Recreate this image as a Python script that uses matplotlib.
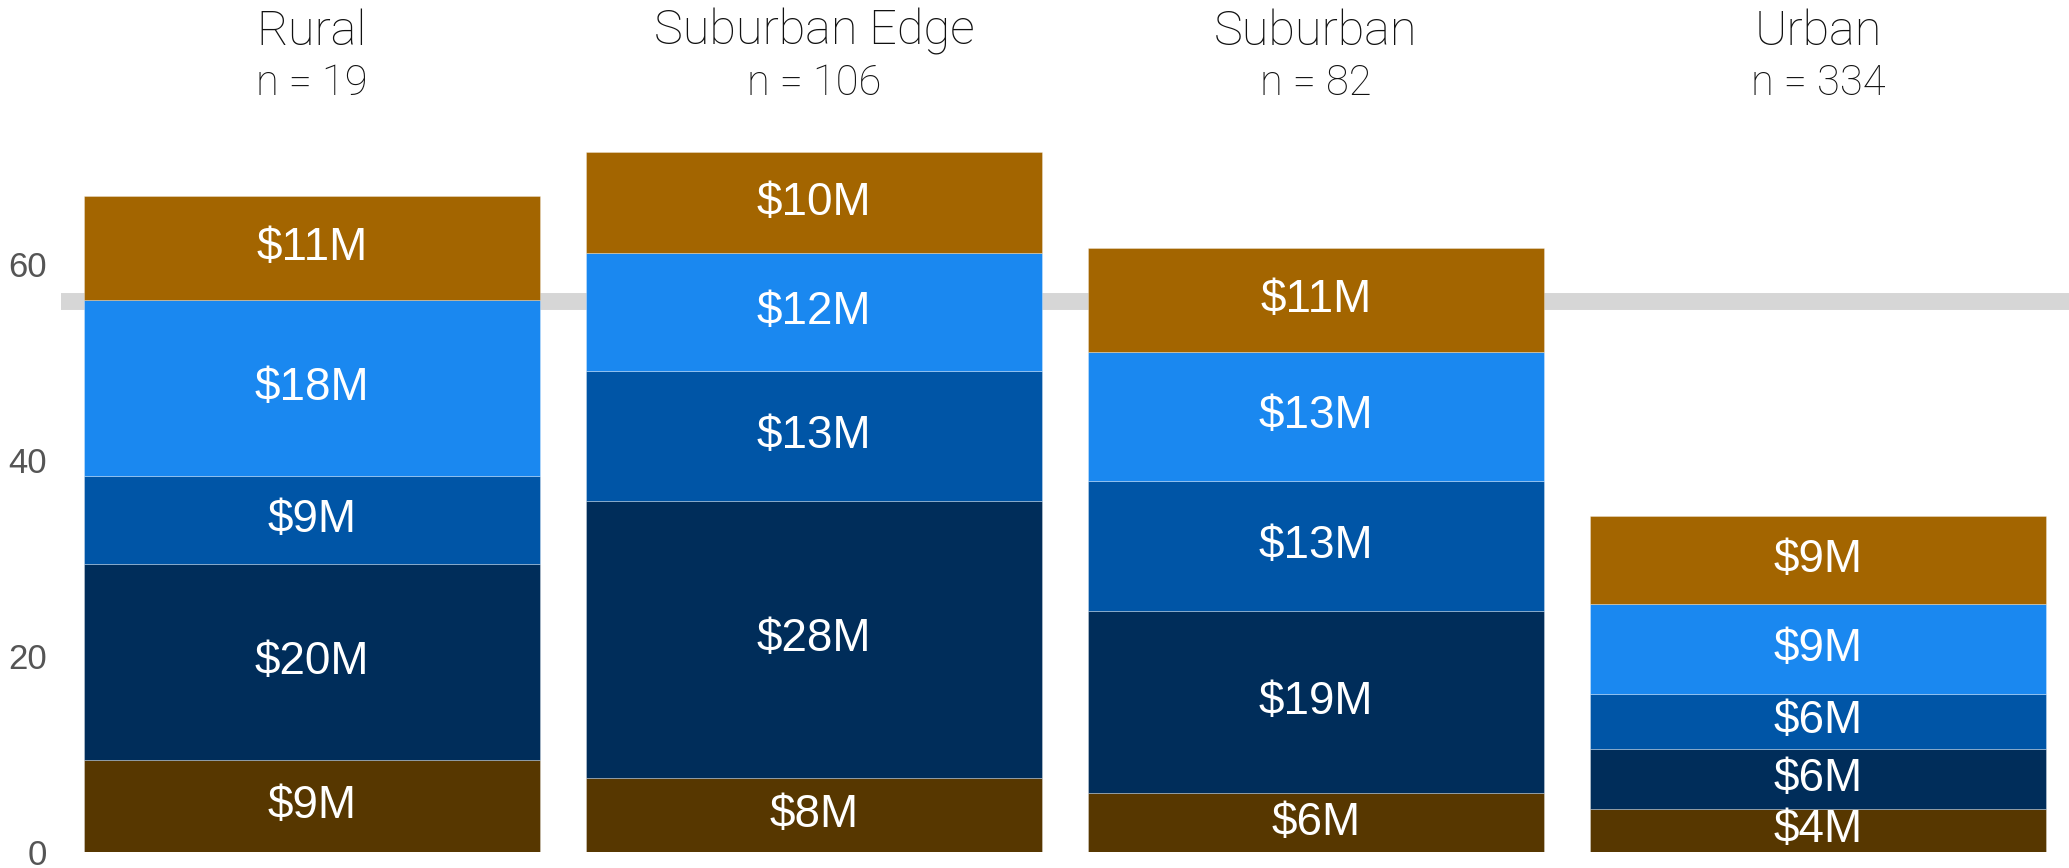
import matplotlib

matplotlib.use("Agg")
import matplotlib.pyplot as plt
import numpy as np

# data (values in $M, stacked bottom -> top)
categories = ["Rural", "Suburban Edge", "Suburban", "Urban"]
counts = [19, 106, 82, 334]
layer_1 = [9.4, 7.6, 6.0, 4.4]
layer_2 = [20.0, 28.2, 18.6, 6.15]
layer_3 = [9.0, 13.3, 13.3, 5.6]
layer_4 = [17.9, 12.0, 13.1, 9.15]
layer_5 = [10.6, 10.3, 10.6, 9.0]
reference_value = 56.2
y_ticks = [0, 20, 40, 60]

layers = [layer_1, layer_2, layer_3, layer_4, layer_5]
colors = ["#573700", "#002D5A", "#0055A6", "#1A88F0", "#A36500"]

W, H, DPI = 2069, 868, 100
fig = plt.figure(figsize=(W / DPI, H / DPI), dpi=DPI)

# axes placed so that 0 sits at the bar bottoms and the top reaches the figure edge
left_px, bottom_px = 61, 852
ax = fig.add_axes([left_px / W, (H - bottom_px) / H, (W - left_px) / W, bottom_px / H])
px_per_unit = 9.8
ax.set_xlim(-0.5, 3.5)
ax.set_ylim(0, bottom_px / px_per_unit)

x = np.arange(len(categories))
bar_width = 0.909

ax.axhline(reference_value, color="#D6D6D6", linewidth=12.2, zorder=1)

base = np.zeros(len(categories))
for values, color in zip(layers, colors):
    values = np.array(values)
    ax.bar(x, values, bottom=base, width=bar_width, color=color,
           edgecolor=(1, 1, 1, 0.35), linewidth=0.6, zorder=2)
    for xi, b, v in zip(x, base, values):
        ax.text(xi, b + v / 2, f"${round(v)}M", ha="center", va="center",
                color="white", fontsize=33, family=["Liberation Sans", "DejaVu Sans"],
                zorder=3)
    base = base + values

for xi, name, n in zip(x, categories, counts):
    ax.text(xi, 82.35, name, ha="center", va="baseline", fontsize=35,
            family=["Roboto", "DejaVu Sans"], fontweight="light", color="#111111")
    ax.text(xi, 77.2, f"n = {n}", ha="center", va="baseline", fontsize=30,
            family=["Roboto", "DejaVu Sans"], fontweight="light", color="#111111")

ax.set_yticks(y_ticks)
ax.set_yticklabels([str(t) for t in y_ticks],
                   family=["Liberation Sans Narrow", "Liberation Sans"],
                   fontsize=25, color="#555555")
ax.tick_params(axis="y", length=0, pad=10)
ax.set_xticks([])
for spine in ax.spines.values():
    spine.set_visible(False)

fig.savefig("out.png", dpi=DPI)
